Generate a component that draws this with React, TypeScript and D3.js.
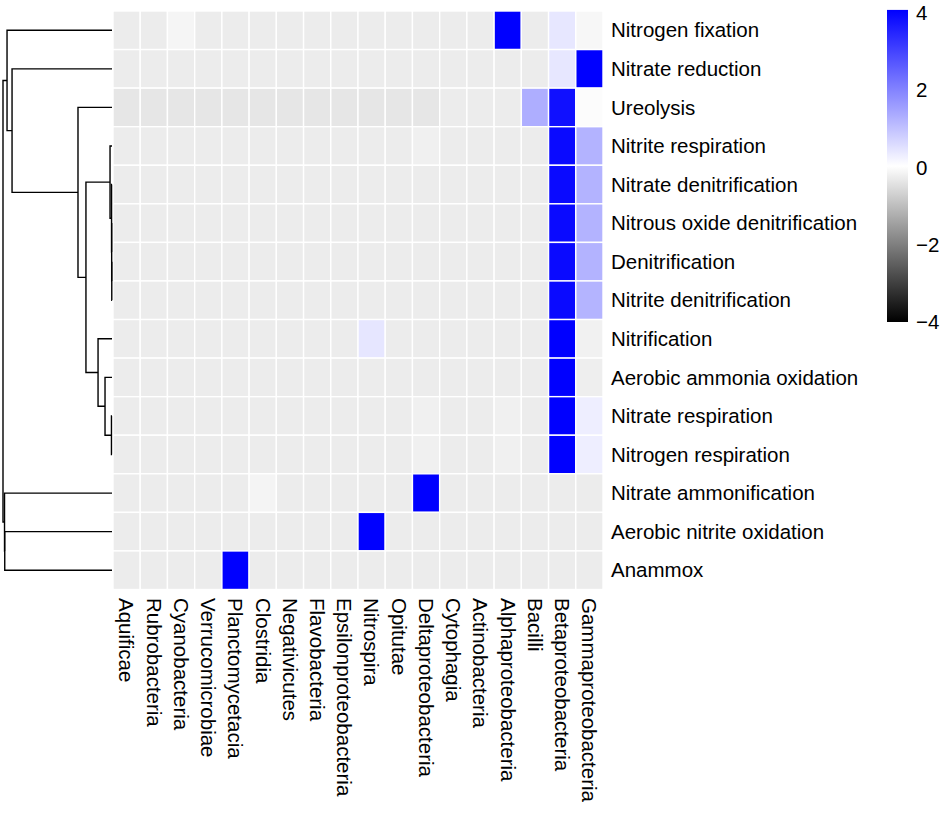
import { useEffect, useRef } from 'react';
import * as d3 from 'd3';

// ─── Data ──────────────────────────────────────────────────
const taxa = [
  'Aquificae', 'Rubrobacteria', 'Cyanobacteria', 'Verrucomicrobiae', 'Planctomycetacia',
  'Clostridia', 'Negativicutes', 'Flavobacteria', 'Epsilonproteobacteria', 'Nitrospira',
  'Opitutae', 'Deltaproteobacteria', 'Cytophagia', 'Actinobacteria', 'Alphaproteobacteria',
  'Bacilli', 'Betaproteobacteria', 'Gammaproteobacteria',
];

const functions = [
  'Nitrogen fixation', 'Nitrate reduction', 'Ureolysis', 'Nitrite respiration',
  'Nitrate denitrification', 'Nitrous oxide denitrification', 'Denitrification',
  'Nitrite denitrification', 'Nitrification', 'Aerobic ammonia oxidation',
  'Nitrate respiration', 'Nitrogen respiration', 'Nitrate ammonification',
  'Aerobic nitrite oxidation', 'Anammox',
];

// scaled values, one row per function, columns in taxa order
const values: number[][] = [
  [-0.3, -0.3, -0.15, -0.3, -0.3, -0.3, -0.3, -0.3, -0.3, -0.3, -0.3, -0.3, -0.3, -0.3, 4, -0.3, 0.38, -0.12],
  [-0.3, -0.3, -0.3, -0.3, -0.3, -0.3, -0.3, -0.3, -0.3, -0.3, -0.3, -0.3, -0.3, -0.3, -0.3, -0.3, 0.38, 4],
  [-0.39, -0.39, -0.39, -0.39, -0.39, -0.39, -0.39, -0.39, -0.39, -0.39, -0.39, -0.39, -0.3, -0.3, -0.3, 1.27, 3.75, -0.04],
  [-0.3, -0.3, -0.3, -0.3, -0.3, -0.3, -0.3, -0.3, -0.3, -0.3, -0.3, -0.23, -0.3, -0.3, -0.3, -0.3, 3.84, 1.2],
  [-0.3, -0.3, -0.3, -0.3, -0.3, -0.3, -0.3, -0.3, -0.3, -0.3, -0.3, -0.3, -0.3, -0.3, -0.3, -0.3, 3.84, 1.2],
  [-0.3, -0.3, -0.3, -0.3, -0.3, -0.3, -0.3, -0.3, -0.3, -0.3, -0.3, -0.3, -0.3, -0.3, -0.3, -0.3, 3.84, 1.2],
  [-0.3, -0.3, -0.3, -0.3, -0.3, -0.3, -0.3, -0.3, -0.3, -0.3, -0.3, -0.3, -0.3, -0.3, -0.3, -0.3, 3.84, 1.2],
  [-0.3, -0.3, -0.3, -0.3, -0.3, -0.3, -0.3, -0.3, -0.3, -0.3, -0.3, -0.3, -0.3, -0.3, -0.3, -0.3, 3.84, 1.18],
  [-0.3, -0.3, -0.3, -0.3, -0.3, -0.3, -0.3, -0.3, -0.3, 0.4, -0.3, -0.3, -0.3, -0.3, -0.3, -0.3, 4, -0.22],
  [-0.3, -0.3, -0.3, -0.3, -0.3, -0.3, -0.3, -0.3, -0.3, -0.3, -0.3, -0.3, -0.3, -0.3, -0.3, -0.3, 4, -0.27],
  [-0.3, -0.3, -0.3, -0.3, -0.3, -0.3, -0.3, -0.3, -0.3, -0.3, -0.3, -0.23, -0.3, -0.3, -0.23, -0.3, 4, 0.26],
  [-0.3, -0.3, -0.3, -0.3, -0.3, -0.3, -0.3, -0.3, -0.3, -0.3, -0.3, -0.23, -0.3, -0.3, -0.23, -0.3, 4, 0.26],
  [-0.3, -0.3, -0.3, -0.3, -0.3, -0.17, -0.3, -0.3, -0.3, -0.3, -0.3, 4, -0.3, -0.3, -0.3, -0.3, -0.3, -0.3],
  [-0.3, -0.3, -0.3, -0.3, -0.3, -0.3, -0.3, -0.3, -0.3, 4, -0.3, -0.3, -0.3, -0.3, -0.3, -0.3, -0.3, -0.3],
  [-0.3, -0.3, -0.3, -0.3, 4, -0.3, -0.3, -0.3, -0.3, -0.3, -0.3, -0.3, -0.3, -0.3, -0.3, -0.3, -0.3, -0.3],
];

// row clustering, hclust style: negative = leaf -(row+1), positive = earlier merge (1-based)
const rowMerges: [number, number][] = [
  [-7, -8], [-6, 1], [-5, 2], [-11, -12], [-4, 3], [-10, 4], [-9, 6], [5, 7],
  [-3, 8], [-2, 9], [-14, -15], [-1, 10], [-13, 11], [12, 13],
];
const rowMergeHeights = [
  0.002, 0.003, 0.004, 0.005, 0.018, 0.064, 0.128, 0.239,
  0.312, 0.917, 0.984, 0.963, 0.986, 1.0,
];

const legendTicks = [4, 2, 0, -2, -4];

export default function App() {
  const svgRef = useRef<SVGSVGElement>(null);

  useEffect(() => {
    if (!svgRef.current) return;
    const svg = d3.select(svgRef.current);
    svg.selectAll('*').remove();

    const font = "'Liberation Sans', Arial, sans-serif";
    const fontSize = 20.5;

    // ─── Scales ────────────────────────────────────────────
    const x = d3.scaleBand<string>().domain(taxa).range([113, 603]);
    const y = d3.scaleBand<string>().domain(functions).range([11, 589.5]);
    const color = d3
      .scaleLinear<string>()
      .domain([-4, 0, 4])
      .range(['#000000', '#ffffff', '#0000ff'])
      .clamp(true);

    // ─── Cells ─────────────────────────────────────────────
    const cells = functions.flatMap((f, i) =>
      taxa.map((t, j) => ({ f, t, v: values[i][j] }))
    );
    svg
      .append('g')
      .selectAll('rect')
      .data(cells)
      .join('rect')
      .attr('x', (d) => x(d.t)!)
      .attr('y', (d) => y(d.f)!)
      .attr('width', x.bandwidth())
      .attr('height', y.bandwidth())
      .attr('fill', (d) => color(d.v))
      .attr('stroke', '#ffffff')
      .attr('stroke-width', 1.4);

    // ─── Row labels ────────────────────────────────────────
    svg
      .append('g')
      .selectAll('text')
      .data(functions)
      .join('text')
      .attr('x', 611)
      .attr('y', (d) => y(d)! + y.bandwidth() / 2)
      .attr('dy', '0.35em')
      .attr('font-family', font)
      .attr('font-size', fontSize)
      .text((d) => d);

    // ─── Column labels ─────────────────────────────────────
    svg
      .append('g')
      .selectAll('text')
      .data(taxa)
      .join('text')
      .attr('transform', (d) => `translate(${x(d)! + x.bandwidth() / 2},598) rotate(90)`)
      .attr('dy', '0.35em')
      .attr('font-family', font)
      .attr('font-size', fontSize)
      .text((d) => d);

    // ─── Row dendrogram ────────────────────────────────────
    const h = d3.scaleLinear().domain([0, 1]).range([112, 3]);
    const nodes: { x: number; y: number }[] = [];
    const pos = (k: number) =>
      k < 0
        ? { x: h(0), y: y(functions[-k - 1])! + y.bandwidth() / 2 }
        : nodes[k - 1];
    const dendro = svg.append('g').attr('fill', 'none').attr('stroke', '#000').attr('stroke-width', 1.4);
    rowMerges.forEach(([a, b], i) => {
      const pa = pos(a);
      const pb = pos(b);
      const nx = h(rowMergeHeights[i]);
      const path = d3.path();
      path.moveTo(pa.x, pa.y);
      path.lineTo(nx, pa.y);
      path.lineTo(nx, pb.y);
      path.lineTo(pb.x, pb.y);
      dendro.append('path').attr('d', path.toString());
      nodes.push({ x: nx, y: (pa.y + pb.y) / 2 });
    });

    // ─── Legend ────────────────────────────────────────────
    const ly = d3.scaleLinear().domain([-4, 4]).range([322, 13]);
    const defs = svg.append('defs');
    const grad = defs
      .append('linearGradient')
      .attr('id', 'legend-grad')
      .attr('x1', 0)
      .attr('x2', 0)
      .attr('y1', 1)
      .attr('y2', 0);
    d3.range(-4, 4.01, 0.5).forEach((v) => {
      grad
        .append('stop')
        .attr('offset', (v + 4) / 8)
        .attr('stop-color', color(v));
    });
    svg
      .append('rect')
      .attr('x', 887)
      .attr('y', ly(4.08))
      .attr('width', 21)
      .attr('height', ly(-4) - ly(4.08))
      .attr('fill', 'url(#legend-grad)');
    svg
      .append('g')
      .selectAll('text')
      .data(legendTicks)
      .join('text')
      .attr('x', 916)
      .attr('y', (d) => ly(d))
      .attr('dy', '0.35em')
      .attr('font-family', font)
      .attr('font-size', fontSize)
      .text((d) => (d < 0 ? `\u2212${-d}` : `${d}`));
  }, []);

  return (
    <>
      <style>{'body{margin:0}'}</style>
      <svg ref={svgRef} width={945} height={819} style={{ display: 'block', background: '#fff' }} />
    </>
  );
}
